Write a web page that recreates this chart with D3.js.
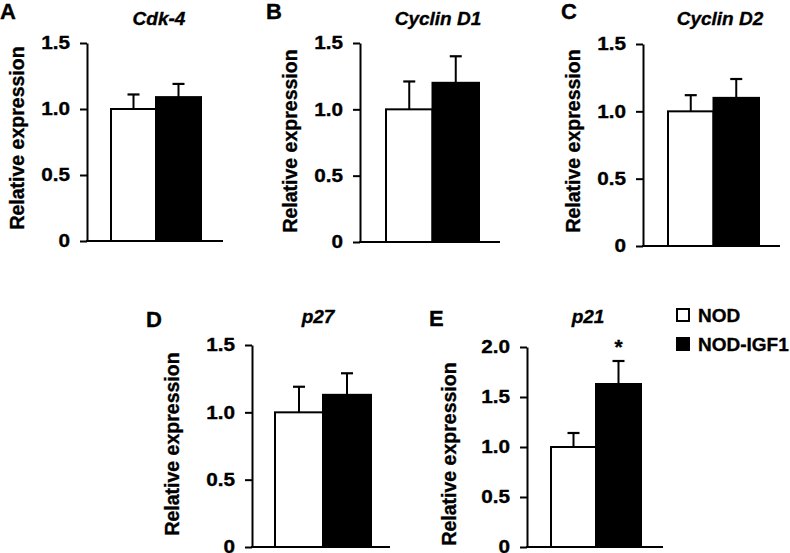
<!DOCTYPE html>
<html>
<head>
<meta charset="utf-8">
<script src="https://cdn.jsdelivr.net/npm/d3@7"></script>
<style>
  html, body { margin: 0; padding: 0; background: #fff; }
  svg { display: block; }
  text { font-family: "Liberation Sans", Arial, Helvetica, sans-serif; font-weight: bold; fill: #000; stroke: #000; stroke-width: 0.35px; }
</style>
</head>
<body>
<svg id="chart" width="790" height="553"></svg>
<script>
// ---- data ----
const panelIds = ["A", "B", "C", "D", "E"];
const genes = ["Cdk-4", "Cyclin D1", "Cyclin D2", "p27", "p21"];
const groups = ["NOD", "NOD-IGF1"];
const nodMeans = [1.00, 1.00, 1.00, 1.00, 1.00];
const nodErrors = [0.11, 0.21, 0.12, 0.19, 0.14];
const igfMeans = [1.09, 1.20, 1.10, 1.13, 1.63];
const igfErrors = [0.10, 0.20, 0.14, 0.16, 0.23];
const yMax = [1.5, 1.5, 1.5, 1.5, 2.0];
const tickValuesStd = [0, 0.5, 1.0, 1.5];
const tickValuesE = [0, 0.5, 1.0, 1.5, 2.0];
const significant = [false, false, false, false, true];
const yAxisTitle = "Relative expression";

// ---- layout (positions only) ----
const layout = [
  { axisX: 87,  yTop: 43,  y0: 241, xEnd: 223, bar: [111, 201], titleX: 159, titleY: 25,  letterX: 0,   letterY: 19,  labX: 24,  labY: 138 },
  { axisX: 360, yTop: 43,  y0: 242, xEnd: 500, bar: [386, 479], titleX: 438, titleY: 25,  letterX: 266, letterY: 19,  labX: 297, labY: 141 },
  { axisX: 643, yTop: 44,  y0: 246, xEnd: 780, bar: [668, 759], titleX: 720, titleY: 25,  letterX: 561, letterY: 19,  labX: 580, labY: 141 },
  { axisX: 252, yTop: 345, y0: 547, xEnd: 390, bar: [275, 371], titleX: 318, titleY: 323, letterX: 146, letterY: 327, labX: 179, labY: 444 },
  { axisX: 527, yTop: 347, y0: 547, xEnd: 663, bar: [551, 641], titleX: 588, titleY: 323, letterX: 429, letterY: 326, labX: 456, labY: 454 }
];

const svg = d3.select("#chart");
const fills = { "NOD": "#ffffff", "NOD-IGF1": "#000000" };
const tickScaleX = 1.12;

panelIds.forEach((id, i) => {
  const L = layout[i];
  const g = svg.append("g");
  const y = d3.scaleLinear().domain([0, yMax[i]]).range([L.y0, L.yTop]);
  const x = d3.scaleBand().domain(groups).range(L.bar).paddingInner(0).paddingOuter(0);
  const rows = [
    { grp: "NOD", mean: nodMeans[i], err: nodErrors[i] },
    { grp: "NOD-IGF1", mean: igfMeans[i], err: igfErrors[i] }
  ];

  // error bars (upward only)
  rows.forEach(r => {
    const cx = x(r.grp) + x.bandwidth() / 2;
    g.append("line").attr("x1", cx).attr("x2", cx)
      .attr("y1", y(r.mean)).attr("y2", y(r.mean + r.err))
      .attr("stroke", "#000").attr("stroke-width", 2);
    g.append("line").attr("x1", cx - 6).attr("x2", cx + 6)
      .attr("y1", y(r.mean + r.err)).attr("y2", y(r.mean + r.err))
      .attr("stroke", "#000").attr("stroke-width", 2.2);
  });

  // bars
  g.selectAll("rect.bar").data(rows).enter().append("rect")
    .attr("class", "bar")
    .attr("x", d => x(d.grp))
    .attr("width", x.bandwidth())
    .attr("y", d => y(d.mean))
    .attr("height", d => y(0) - y(d.mean))
    .attr("fill", d => fills[d.grp])
    .attr("stroke", "#000").attr("stroke-width", 2);

  // y axis
  const tv = (yMax[i] === 2.0) ? tickValuesE : tickValuesStd;
  const axis = d3.axisLeft(y).tickValues(tv)
    .tickFormat(v => v === 0 ? "0" : d3.format(".1f")(v))
    .tickSize(7).tickSizeOuter(0).tickPadding(10);
  const ag = g.append("g").attr("transform", `translate(${L.axisX},0)`).call(axis);
  ag.select(".domain").attr("stroke", "#000").attr("stroke-width", 2);
  ag.selectAll(".tick line").attr("stroke", "#000").attr("stroke-width", 2);
  ag.selectAll(".tick text")
    .attr("font-size", 18.5).attr("font-weight", "bold")
    .attr("font-family", '"Liberation Sans", Arial, sans-serif').attr("fill", "#000")
    .attr("x", -17 / tickScaleX)
    .attr("transform", `scale(${tickScaleX},1)`);

  // x axis baseline
  g.append("line").attr("x1", L.axisX - 1).attr("x2", L.xEnd)
    .attr("y1", y(0)).attr("y2", y(0))
    .attr("stroke", "#000").attr("stroke-width", 2);

  // y axis title
  g.append("text")
    .attr("transform", `translate(${L.labX},${L.labY}) rotate(-90)`)
    .attr("text-anchor", "middle")
    .attr("font-size", 19.5)
    .text(yAxisTitle);

  // gene title
  g.append("text").attr("x", L.titleX).attr("y", L.titleY)
    .attr("text-anchor", "middle").attr("font-size", 19).attr("font-style", "italic")
    .text(genes[i]);

  // panel letter
  g.append("text").attr("x", L.letterX).attr("y", L.letterY)
    .attr("font-size", 22).text(id);

  // significance
  if (significant[i]) {
    const r = rows[1];
    g.append("text")
      .attr("x", x(r.grp) + x.bandwidth() / 2)
      .attr("y", y(r.mean + r.err) - 7)
      .attr("text-anchor", "middle").attr("font-size", 21).text("*");
  }
});

// legend
const legend = svg.append("g").attr("transform", "translate(676,308)");
groups.forEach((grp, k) => {
  const lg = legend.append("g").attr("transform", `translate(0,${k * 29})`);
  lg.append("rect").attr("x", 1).attr("y", 1).attr("width", 12).attr("height", 12)
    .attr("fill", fills[grp]).attr("stroke", "#000").attr("stroke-width", 2);
  lg.append("text").attr("x", 22).attr("y", 14).attr("font-size", 19).text(grp);
});
</script>
</body>
</html>
